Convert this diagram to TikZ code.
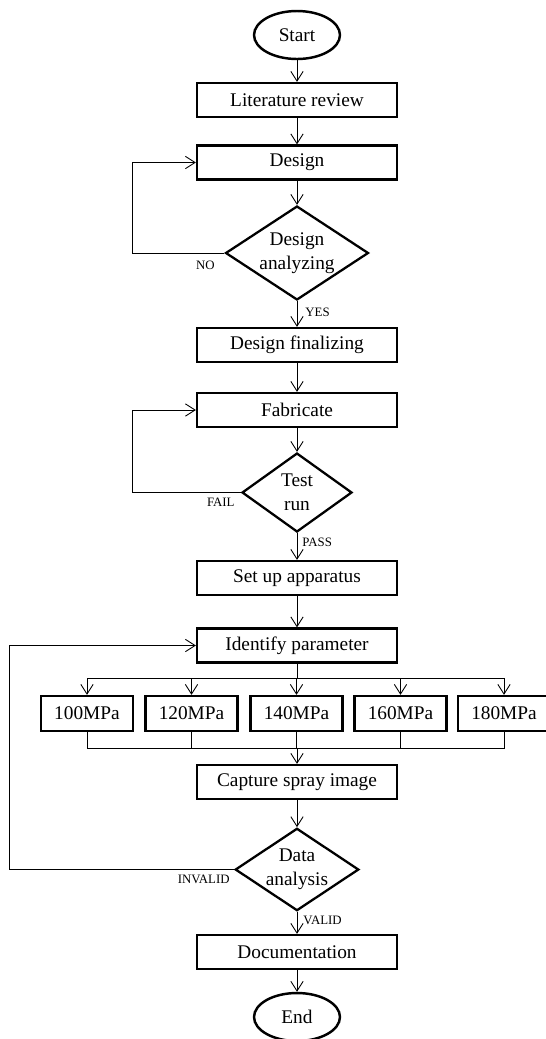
\documentclass[tikz,border=0pt]{standalone}
\usepackage{fontspec}
\setmainfont{Liberation Serif}
\usetikzlibrary{arrows.meta,shapes,graphs}
\tikzset{
    >={Straight Barb[length=5.5pt,width=7pt]},
    block/.style={draw=black,rectangle,line width=1.3pt,minimum width=4cm,minimum height=0.68cm,inner sep=0pt},
    pbox/.style={block,minimum width=1.84cm,minimum height=0.7cm},
    decide/.style={draw=black,diamond,line width=1.3pt,inner sep=0pt,aspect=1.5,align=center},
    terminal/.style={draw=black,ellipse,line width=1.4pt,minimum width=1.72cm,minimum height=0.96cm,inner sep=0pt},
    lbl/.style={inner sep=0pt,font=\fontsize{7.3}{8}\selectfont},
}
\begin{document}
\begin{tikzpicture}[x=0.02cm,y=-0.02cm,line width=0.5pt,font=\fontsize{11}{13.7}\selectfont]
            \useasboundingbox (0,0) rectangle (545,1039);

            \node[terminal] (start) at (297,35) {Start};
            \node[block] (litrev) at (297,100) {Literature review};
            \node[block] (design) at (297,162.5) {Design};
            \node[decide,minimum width=2.86cm,minimum height=1.88cm] (danalyze) at (297,253) {Design\\analyzing};
            \node[block] (dfinal) at (297,345) {Design finalizing};
            \node[block] (fabricate) at (297,410) {Fabricate};
            \node[decide,minimum width=2.2cm,minimum height=1.58cm] (testrun) at (297,492.5) {Test\\run};
            \node[block] (setup) at (297,578) {Set up apparatus};
            \node[block] (identify) at (297,645.5) {Identify parameter};
            \foreach \v/\x in {100/87,120/191.5,140/296.5,160/400.5,180/504}
                \node[pbox] (p\v) at (\x,713.5) {\v MPa};
            \node[block] (capture) at (297,782) {Capture spray image};
            \node[decide,minimum width=2.4cm,minimum height=1.62cm] (danalysis) at (297,869.5) {Data\\analysis};
            \node[block] (documentation) at (297,952) {Documentation};
            \node[terminal] (finish) at (297,1017) {End};

            \node[lbl,anchor=east] (lno) at (215,265) {NO};
            \node[lbl,anchor=west] (lyes) at (305,312) {YES};
            \node[lbl,anchor=east] (lfail) at (235,502) {FAIL};
            \node[lbl,anchor=west] (lpass) at (302,542) {PASS};
            \node[lbl,anchor=east] (linvalid) at (230,879) {INVALID};
            \node[lbl,anchor=west] (lvalid) at (303,920) {VALID};

            \graph[use existing nodes] {
                start -> litrev -> design -> danalyze -> dfinal -> fabricate -> testrun -> setup -> identify;
                capture -> danalysis -> documentation -> finish;
            } ;

            % loops back
            \draw[->] (danalyze.west) -- ++(-92,0) |- (design.west);
            \draw[->] (testrun.west) -- ++(-108,0) |- (fabricate.west);
            \draw[->] (danalysis.west) -- ++(-225,0) |- (identify.west);

            % pressure branches
            \coordinate (split) at (297,678);
            \coordinate (merge) at (297,748);
            \draw (identify) -- (split);
            \foreach \v in {100,120,140,160,180} {
                \draw[->] (split) -| (p\v.north);
                \draw (p\v.south) |- (merge);
            }
            \draw[->] (merge) -- (capture);
\end{tikzpicture}
\end{document}
